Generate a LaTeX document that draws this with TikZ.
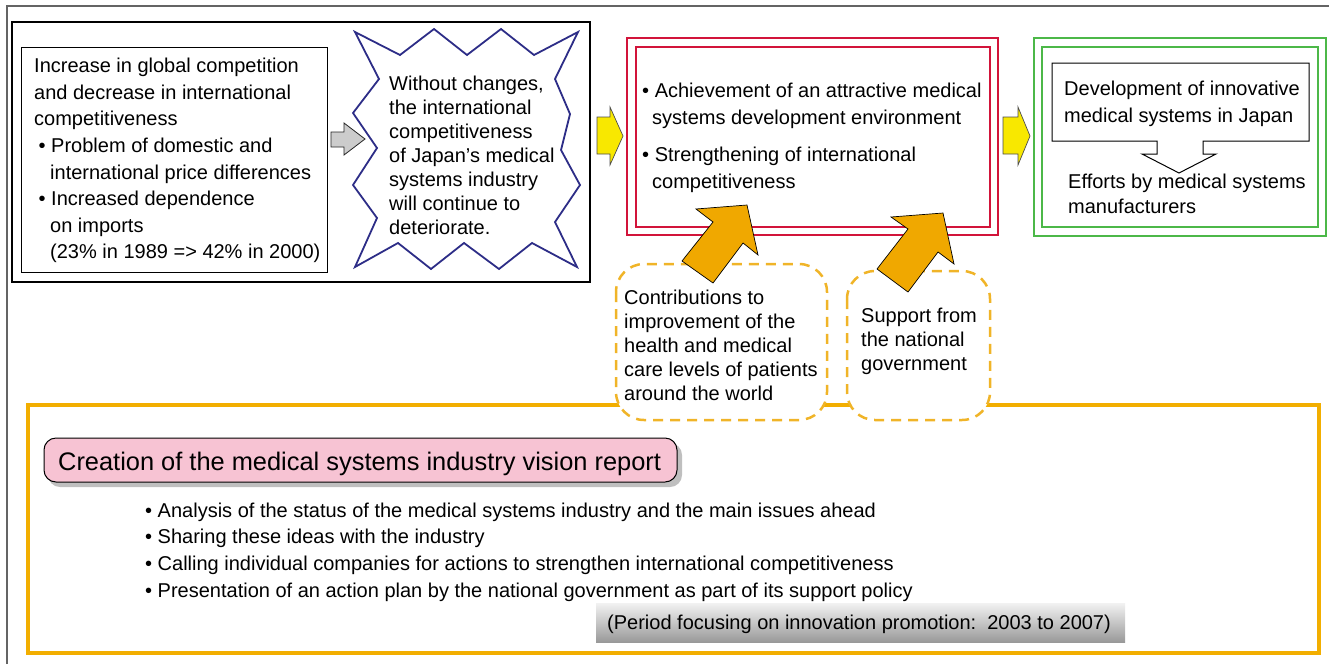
\documentclass[tikz,border=0pt]{standalone}
\usepackage{fontspec}
\setmainfont{Liberation Sans}
\definecolor{navy}{RGB}{45,45,135}
\definecolor{redb}{RGB}{210,20,58}
\definecolor{greenb}{RGB}{76,184,72}
\definecolor{orframe}{RGB}{242,174,0}
\definecolor{ordash}{RGB}{240,180,40}
\definecolor{orarrow}{RGB}{240,168,0}
\definecolor{yel}{RGB}{248,232,0}
\definecolor{pinkb}{RGB}{247,195,211}
\definecolor{framegray}{RGB}{100,100,100}
\begin{document}
\begin{tikzpicture}[x=1pt,y=-1pt,
  txt/.style={inner sep=0pt, align=left, anchor=base west},
  f20/.style={font=\fontsize{20}{26.6}\selectfont},
  f20s/.style={font=\fontsize{20}{24}\selectfont},
  redline/.style={draw=redb, line width=2.5pt},
  greenline/.style={draw=greenb, line width=2.5pt},
  dashbox/.style={draw=ordash, line width=2.5pt, dash pattern=on 10pt off 7pt, fill=white, rounded corners=28pt},
  bigarrow/.style={fill=orarrow, draw=black, line width=0.7pt, line join=miter},
  yarrow/.style={fill=yel, draw=black!70, line width=0.7pt},
]
\useasboundingbox (0,0) rectangle (1329,664);
% outer frame
\draw[framegray, line width=1.5pt] (7,664) -- (7,6) -- (1329,6);
% big orange frame
\draw[orframe, line width=3.5pt] (28,405) rectangle (1319,653);
% black box and left box
\draw[line width=1.3pt] (12,22) rectangle (590,282);
\draw[line width=1pt] (21,47) rectangle (327,272);
% (base anchor of a multi-line node = baseline of its last line)
\node[txt,f20] (left) at (34,258.9) {Increase in global competition\\
and decrease in international\\
competitiveness\\
\hspace*{4.5pt}\textbullet\ Problem of domestic and\\
\hspace*{16pt}international price differences\\
\hspace*{4.5pt}\textbullet\ Increased dependence\\
\hspace*{16pt}on imports\\
\hspace*{16pt}(23\% in 1989 => 42\% in 2000)};
% gray arrow
\draw[fill=black!20, draw=black!85, line width=0.8pt] (331,132) -- (344,132) -- (344,123) -- (365,139) -- (344,155) -- (344,147) -- (331,147) -- cycle;
% star
\draw[navy, fill=white, line width=1.8pt, line join=miter]
 (355,32) -- (400,55) -- (434,29) -- (467,55) -- (501,29) -- (534,55) -- (578,32)
 -- (555,79) -- (570,114) -- (561,150) -- (580,185) -- (555,222) -- (577,267)
 -- (532,243) -- (499,269) -- (464,243) -- (431,269) -- (398,243) -- (355,267)
 -- (377,218) -- (353,185) -- (377,148) -- (353,113) -- (379,79) -- cycle;
\node[txt,f20s] (star) at (389,234.7) {Without changes,\\
the international\\
competitiveness\\
of Japan’s medical\\
systems industry\\
will continue to\\
deteriorate.};
% yellow arrows
\draw[yarrow] (597,117) -- (610,117) -- (610,107) -- (623,136) -- (610,165) -- (610,154) -- (597,154) -- cycle;
\draw[yarrow] (1003,117) -- (1018,117) -- (1018,107) -- (1030,136) -- (1018,165) -- (1018,154) -- (1003,154) -- cycle;
% red box
\draw[redline] (627,38) rectangle (998,235);
\draw[redline] (636,47) rectangle (990,227);
\node[txt,font=\fontsize{20}{27}\selectfont] (r1) at (642,124) {\textbullet\ Achievement of an attractive medical\\
\hspace*{10pt}systems development environment};
\node[txt,font=\fontsize{20}{27}\selectfont] (r2) at (642,188) {\textbullet\ Strengthening of international\\
\hspace*{10pt}competitiveness};
% green box
\draw[greenline] (1034,38) rectangle (1326,236);
\draw[greenline] (1042,47) rectangle (1318,227);
\draw[fill=white, line width=1pt, line join=miter] (1052,63) -- (1309,63) -- (1309,141) -- (1203,141) -- (1203,154) -- (1216,154) -- (1179,173) -- (1142,154) -- (1157,154) -- (1157,141) -- (1052,141) -- cycle;
\node[txt,font=\fontsize{20}{27}\selectfont] (g1) at (1064,122) {Development of innovative\\
medical systems in Japan};
\node[txt,font=\fontsize{20}{25.5}\selectfont] (g2) at (1068,213.5) {Efforts by medical systems\\
manufacturers};
% dashed boxes
\draw[dashbox] (616,264) rectangle (827,420);
\draw[dashbox] (847,271) rectangle (990,420);
\node[txt,f20s] (d1) at (624,400) {Contributions to\\
improvement of the\\
health and medical\\
care levels of patients\\
around the world};
\node[txt,f20s] (d2) at (861,370) {Support from\\
the national\\
government};
% orange arrows
\draw[bigarrow] (747,205) -- (758,255) -- (743,243) -- (713,283) -- (682,261) -- (713,222) -- (696,209) -- cycle;
\draw[bigarrow] (943,213) -- (954,264) -- (938,252) -- (908,292) -- (877,269) -- (908,229) -- (891,217) -- cycle;
% pink title
\fill[black!25, rounded corners=12pt] (48,443) rectangle (682,487);
\draw[fill=pinkb, line width=1pt, rounded corners=12pt] (44,438) rectangle (677,482);
\node[txt,font=\fontsize{25.4}{30}\selectfont] (title) at (58,470) {Creation of the medical systems industry vision report};
% bullets
\node[txt,f20] (bul) at (145,597.1) {\textbullet\ Analysis of the status of the medical systems industry and the main issues ahead\\
\textbullet\ Sharing these ideas with the industry\\
\textbullet\ Calling individual companies for actions to strengthen international competitiveness\\
\textbullet\ Presentation of an action plan by the national government as part of its support policy};
% period box
\shade[top color=black!5, bottom color=black!40] (596,603) rectangle (1125,642);
\node[txt,f20] (period) at (607,629) {(Period focusing on innovation promotion:\ \ 2003 to 2007)};
\end{tikzpicture}
\end{document}
